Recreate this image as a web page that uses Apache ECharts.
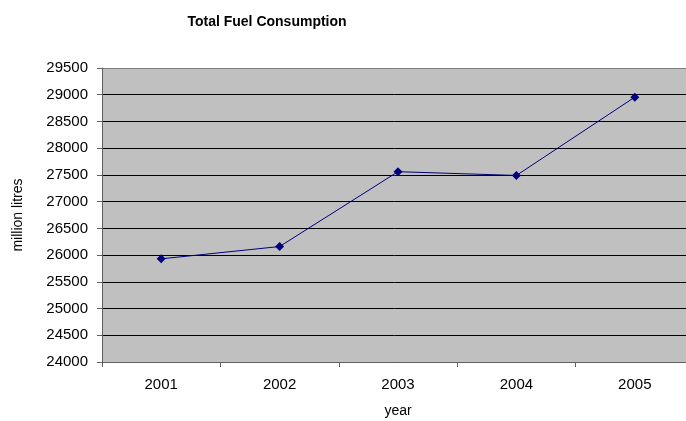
<!DOCTYPE html>
<html>
<head>
<meta charset="utf-8">
<script src="https://cdn.jsdelivr.net/npm/echarts@6/dist/echarts.min.js"></script>
<style>
html,body{margin:0;padding:0;background:#fff;}
#chart{width:686px;height:421px;}
</style>
</head>
<body>
<div id="chart"></div>
<script>
var years = ['2001', '2002', '2003', '2004', '2005'];
var fuelConsumption = [25930, 26160, 27560, 27490, 28955];
var yMin = 24000, yMax = 29500, yStep = 500;

var chart = echarts.init(document.getElementById('chart'), null, {renderer: 'canvas'});
var splitColors = [];
for (var v = yMin; v <= yMax; v += yStep) splitColors.push(v === yMax ? '#808080' : '#000000');

chart.setOption({
  animation: false,
  backgroundColor: '#ffffff',
  title: {
    text: 'Total Fuel Consumption',
    left: 262,
    top: 10,
    textAlign: 'center',
    textStyle: {fontFamily: 'Liberation Sans', fontWeight: 'bold', fontSize: 14, color: '#000'}
  },
  grid: {
    left: 102, top: 68, width: 592, bottom: 59,
    outerBoundsMode: 'none',
    containLabel: false,
    show: true, backgroundColor: '#C0C0C0', borderWidth: 0
  },
  xAxis: {
    type: 'category',
    data: years,
    boundaryGap: true,
    name: 'year',
    nameLocation: 'middle',
    nameGap: 42,
    nameTextStyle: {fontFamily: 'Liberation Sans', fontSize: 14, color: '#000'},
    axisLine: {lineStyle: {color: '#606060', width: 1}},
    axisTick: {show: true, alignWithLabel: false, length: 5, lineStyle: {color: '#606060'}},
    axisLabel: {fontFamily: 'Liberation Sans', fontSize: 15, color: '#000', margin: 15},
    splitLine: {show: false}
  },
  yAxis: {
    type: 'value',
    min: yMin, max: yMax, interval: yStep,
    name: 'million litres',
    nameLocation: 'middle',
    nameRotate: 90,
    nameGap: 77,
    nameTextStyle: {fontFamily: 'Liberation Sans', fontSize: 14, color: '#000'},
    axisLine: {show: true, lineStyle: {color: '#606060', width: 1}},
    axisTick: {show: true, length: 5, lineStyle: {color: '#606060'}},
    axisLabel: {fontFamily: 'Liberation Sans', fontSize: 15, color: '#000', margin: 14,
      formatter: function (val) { return String(val); }},
    splitLine: {show: true, lineStyle: {color: splitColors, width: 1}}
  },
  series: [{
    type: 'line',
    data: fuelConsumption,
    symbol: 'diamond',
    symbolSize: 9,
    lineStyle: {color: '#000080', width: 1},
    itemStyle: {color: '#000080'}
  }]
});
</script>
</body>
</html>
